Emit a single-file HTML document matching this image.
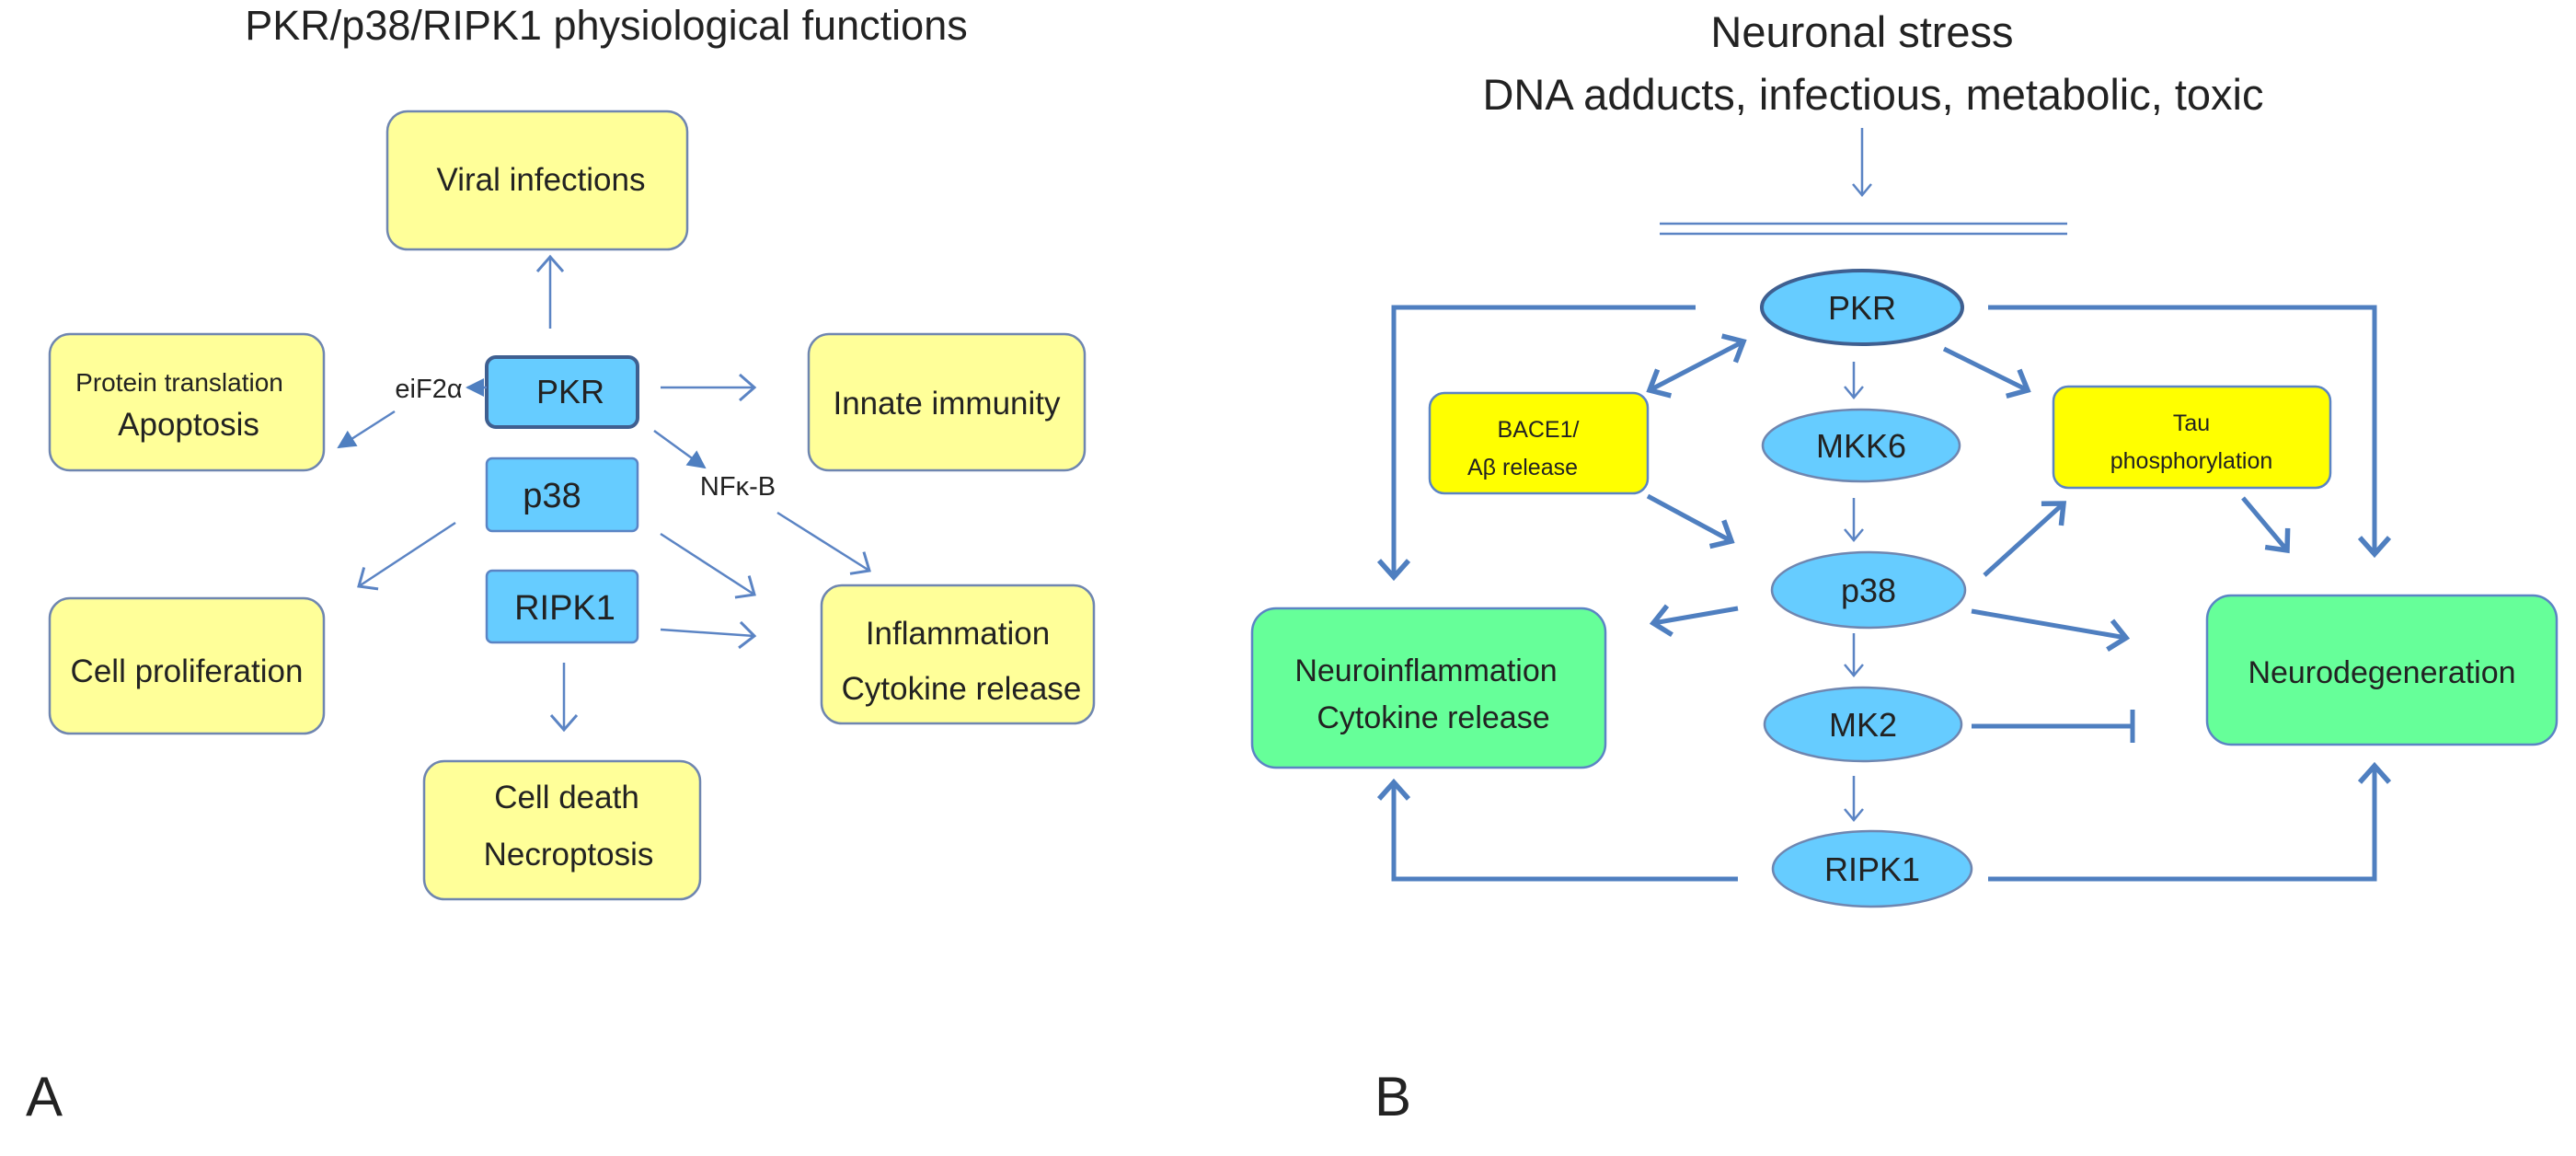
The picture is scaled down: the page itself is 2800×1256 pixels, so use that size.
<!DOCTYPE html>
<html><head><meta charset="utf-8"><style>
html,body{margin:0;padding:0;background:#fff}
svg{display:block}
text{font-family:"Liberation Sans",sans-serif;fill:#222}
</style></head><body>
<svg width="2800" height="1256" viewBox="0 0 2800 1256" xmlns="http://www.w3.org/2000/svg">
<defs>
<marker id="o" markerUnits="userSpaceOnUse" markerWidth="40" markerHeight="40" refX="20" refY="20" orient="auto" viewBox="0 0 40 40">
<path d="M4,6 L20,20 L4,34" fill="none" stroke="#5b84c4" stroke-width="3"/></marker>
<marker id="ot" markerUnits="userSpaceOnUse" markerWidth="44" markerHeight="44" refX="22" refY="22" orient="auto-start-reverse" viewBox="0 0 44 44">
<path d="M4,6 L22,22 L4,38" fill="none" stroke="#4f7fc0" stroke-width="5.5"/></marker>
<marker id="os" markerUnits="userSpaceOnUse" markerWidth="30" markerHeight="30" refX="15" refY="15" orient="auto" viewBox="0 0 30 30">
<path d="M3,5 L15,15 L3,25" fill="none" stroke="#5b84c4" stroke-width="2.5"/></marker>
<marker id="f" markerUnits="userSpaceOnUse" markerWidth="30" markerHeight="30" refX="20" refY="15" orient="auto" viewBox="0 0 30 30">
<path d="M2,5 L22,15 L2,25 Z" fill="#4f7fc0"/></marker>
</defs>

<!-- Panel A -->
<text x="659" y="43" font-size="45" text-anchor="middle" fill="#333">PKR/p38/RIPK1 physiological functions</text>
<g stroke="#6f86b0" stroke-width="2.5" fill="#ffff99">
<rect x="421" y="121" width="326" height="150" rx="22"/>
<rect x="54" y="363" width="298" height="148" rx="22"/>
<rect x="879" y="363" width="300" height="148" rx="22"/>
<rect x="893" y="636" width="296" height="150" rx="22"/>
<rect x="54" y="650" width="298" height="147" rx="22"/>
<rect x="461" y="827" width="300" height="150" rx="22"/>
</g>
<rect x="529" y="388" width="164" height="76" rx="10" fill="#66ccff" stroke="#3f5f90" stroke-width="4"/>
<rect x="529" y="498" width="164" height="79" rx="6" fill="#66ccff" stroke="#5b84c4" stroke-width="2.5"/>
<rect x="529" y="620" width="164" height="78" rx="6" fill="#66ccff" stroke="#5b84c4" stroke-width="2.5"/>
<g font-size="35" text-anchor="middle">
<text x="588" y="207">Viral infections</text>
<text x="195" y="425" font-size="28">Protein translation</text>
<text x="205" y="473">Apoptosis</text>
<text x="1029" y="450">Innate immunity</text>
<text x="1041" y="700">Inflammation</text>
<text x="1045" y="760">Cytokine release</text>
<text x="203" y="741">Cell proliferation</text>
<text x="616" y="878">Cell death</text>
<text x="618" y="940">Necroptosis</text>
<text x="620" y="438" font-size="36">PKR</text>
<text x="600" y="551" font-size="38">p38</text>
<text x="614" y="673" font-size="38">RIPK1</text>
<text x="466" y="432" font-size="29">eiF2α</text>
<text x="802" y="538" font-size="29">NFκ-B</text>
</g>
<g stroke="#5b84c4" stroke-width="2.5" fill="none">
<line x1="598" y1="357" x2="598" y2="279" marker-end="url(#o)"/>
<line x1="529" y1="421" x2="508" y2="421" marker-end="url(#f)"/>
<line x1="429" y1="447" x2="368" y2="486" marker-end="url(#f)"/>
<line x1="718" y1="421" x2="820" y2="421" marker-end="url(#o)"/>
<line x1="711" y1="468" x2="766" y2="508" marker-end="url(#f)"/>
<line x1="845" y1="557" x2="945" y2="620" marker-end="url(#o)"/>
<line x1="718" y1="580" x2="820" y2="646" marker-end="url(#o)"/>
<line x1="718" y1="684" x2="820" y2="691" marker-end="url(#o)"/>
<line x1="495" y1="568" x2="390" y2="637" marker-end="url(#o)"/>
<line x1="613" y1="720" x2="613" y2="793" marker-end="url(#o)"/>
</g>
<text x="28" y="1212" font-size="60">A</text>

<!-- Panel B -->
<text x="2024" y="51" font-size="47" text-anchor="middle">Neuronal stress</text>
<text x="2036" y="119" font-size="47" text-anchor="middle">DNA adducts, infectious, metabolic, toxic</text>
<g stroke="#5b84c4" stroke-width="2.5" fill="none">
<line x1="2024" y1="139" x2="2024" y2="212" marker-end="url(#os)"/>
<line x1="1804" y1="243" x2="2247" y2="243"/>
<line x1="1804" y1="254" x2="2247" y2="254"/>
<line x1="2015" y1="393" x2="2015" y2="432" marker-end="url(#os)"/>
<line x1="2015" y1="541" x2="2015" y2="587" marker-end="url(#os)"/>
<line x1="2015" y1="688" x2="2015" y2="734" marker-end="url(#os)"/>
<line x1="2015" y1="843" x2="2015" y2="891" marker-end="url(#os)"/>
</g>
<g stroke="#5b84c4" stroke-width="2.5" fill="#ffff00">
<rect x="1554" y="427" width="237" height="109" rx="16"/>
<rect x="2232" y="420" width="301" height="110" rx="16"/>
</g>
<g stroke="#5b84c4" stroke-width="2.5" fill="#66ff99">
<rect x="1361" y="661" width="384" height="173" rx="26"/>
<rect x="2399" y="647" width="380" height="162" rx="26"/>
</g>
<g fill="#66ccff" stroke="#6f86b0" stroke-width="2.5">
<ellipse cx="2024" cy="334" rx="109" ry="40" stroke="#3f5f90" stroke-width="4"/>
<ellipse cx="2023" cy="484" rx="107" ry="39"/>
<ellipse cx="2031" cy="641" rx="105" ry="41"/>
<ellipse cx="2025" cy="787" rx="107" ry="40"/>
<ellipse cx="2035" cy="944" rx="108" ry="41"/>
</g>
<g font-size="36" text-anchor="middle">
<text x="2024" y="347">PKR</text>
<text x="2023" y="497">MKK6</text>
<text x="2031" y="654">p38</text>
<text x="2025" y="800">MK2</text>
<text x="2035" y="957">RIPK1</text>
<text x="1672" y="475" font-size="25">BACE1/</text>
<text x="1655" y="516" font-size="25">Aβ release</text>
<text x="2382" y="468" font-size="25">Tau</text>
<text x="2382" y="509" font-size="25">phosphorylation</text>
<text x="1550" y="740" font-size="34">Neuroinflammation</text>
<text x="1558" y="791" font-size="34">Cytokine release</text>
<text x="2589" y="742" font-size="34">Neurodegeneration</text>
</g>
<g stroke="#4f7fc0" stroke-width="5" fill="none" stroke-linejoin="miter">
<polyline points="1843,334 1515,334 1515,627" marker-end="url(#ot)"/>
<polyline points="2161,334 2581,334 2581,602" marker-end="url(#ot)"/>
<line x1="1895" y1="371" x2="1793" y2="424" marker-end="url(#ot)" marker-start="url(#ot)"/>
<line x1="2113" y1="379" x2="2204" y2="424" marker-end="url(#ot)"/>
<line x1="1791" y1="539" x2="1882" y2="588" marker-end="url(#ot)"/>
<line x1="2157" y1="625" x2="2243" y2="547" marker-end="url(#ot)"/>
<line x1="2438" y1="541" x2="2486" y2="598" marker-end="url(#ot)"/>
<line x1="1889" y1="661" x2="1797" y2="677" marker-end="url(#ot)"/>
<line x1="2143" y1="664" x2="2311" y2="693" marker-end="url(#ot)"/>
<line x1="2143" y1="789" x2="2318" y2="789"/>
<line x1="2318" y1="771" x2="2318" y2="807"/>
<polyline points="1889,955 1515,955 1515,850" marker-end="url(#ot)"/>
<polyline points="2161,955 2581,955 2581,832" marker-end="url(#ot)"/>
</g>
<text x="1494" y="1212" font-size="60">B</text>
</svg>
</body></html>
